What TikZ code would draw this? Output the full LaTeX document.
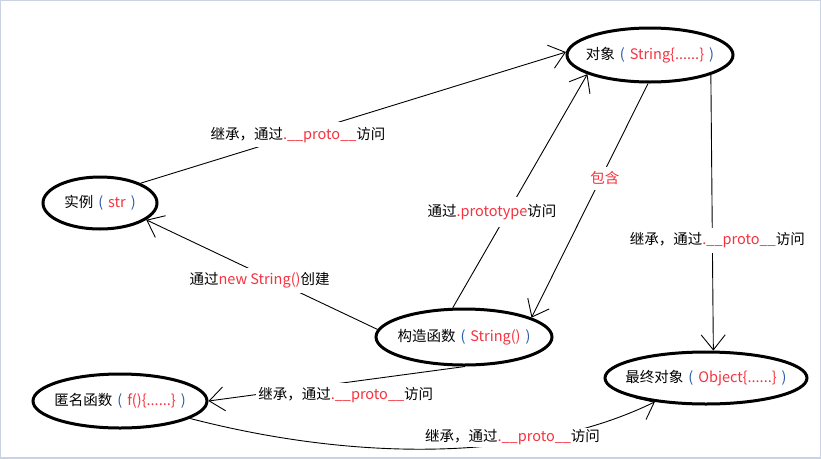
\documentclass[tikz,border=0pt]{standalone}
\usepackage{fontspec}
\usepackage{xcolor}
\usepackage{tikz}
\usetikzlibrary{shapes.geometric,arrows.meta}
\newfontfamily\cjk{Noto Sans CJK SC}
\definecolor{protoRed}{HTML}{F5333F}
\definecolor{parenBlue}{HTML}{2A5CAA}
\definecolor{frameGray}{HTML}{C9D3E2}
\newcommand{\rd}[1]{\textcolor{protoRed}{#1}}
\newcommand{\bp}[1]{\kern5pt\textcolor{parenBlue}{(}\kern5pt\rd{#1}\kern5pt\textcolor{parenBlue}{)}}
\newcommand{\nowide}[1]{\makebox[0pt]{#1}}

\begin{document}
\begin{tikzpicture}[x=1pt, y=-1pt, >={Straight Barb[length=15pt,width=24pt]},
                    oval/.style={ellipse, draw, line width=3pt, inner sep=0pt,
                                 font=\cjk\fontsize{14.5}{17}\selectfont},
                    lbl/.style={fill=white, inner xsep=2pt, inner ysep=5pt,
                                font=\cjk\fontsize{14.5}{17}\selectfont},
                    link/.style={->, line width=0.9pt}]
\useasboundingbox (0,0) rectangle (821,458);
\draw[frameGray, line width=1.5pt] (0,0) rectangle (821,458);
% prototype chain
\node[oval, minimum width=166pt, minimum height=54pt] (obj) at (650,55) {\nowide{对象\bp{String\{......\}}}};
\node[oval, minimum width=114pt, minimum height=52pt] (inst) at (100,203) {\nowide{实例\bp{str}}};
\node[oval, minimum width=176pt, minimum height=56pt] (ctor) at (464,337) {\nowide{构造函数\bp{String()}}};
\node[oval, minimum width=174pt, minimum height=54pt] (anon) at (120,401) {\nowide{匿名函数\bp{f()\{......\}}}};
\node[oval, minimum width=202pt, minimum height=52pt] (fin) at (706,378) {\nowide{最终对象\bp{Object\{......\}}}};
\draw[link] (inst.26) -- node[lbl, pos=0.37] (inh1) {继承，通过\rd{.\_\_proto\_\_}访问} (obj.178);
\draw[link] (ctor.111) -- node[lbl, pos=0.41, xshift=-16pt, inner ysep=7pt] (viaproto) {通过\rd{.prototype}访问} (obj.197);
\draw[link] (obj.266) -- node[lbl, pos=0.405, xshift=4pt] (has) {\rd{包含}} (ctor.16);
\draw[link] (obj.342) -- node[lbl, pos=0.6, xshift=5pt] (inh2) {继承，通过\rd{.\_\_proto\_\_}访问} (fin.75);
\draw[link] (ctor.175) -- node[lbl, pos=0.51, yshift=-7pt] (mk) {通过\rd{new String()}创建} (inst.340);
\draw[link] (ctor.272) -- node[lbl, pos=0.465, yshift=-13pt] (inh3) {继承，通过\rd{.\_\_proto\_\_}访问} (anon.east);
\draw[link] (anon.346) .. controls (370,465) and (540,458) .. node[lbl, pos=0.62, xshift=10pt, yshift=7pt, inner ysep=2pt] (inh4) {继承，通过\rd{.\_\_proto\_\_}访问} (fin.205);
\end{tikzpicture}
\end{document}
